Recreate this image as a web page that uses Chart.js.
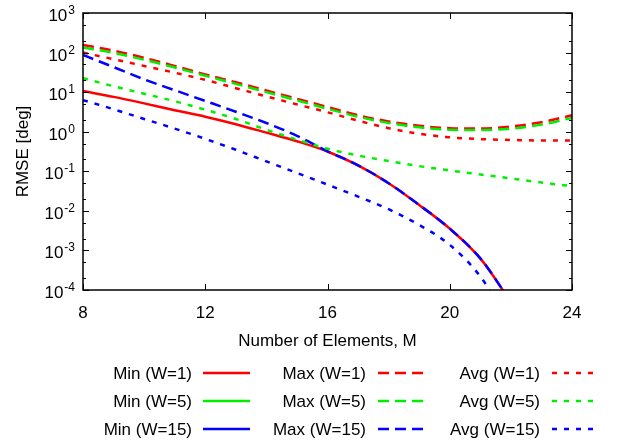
<!DOCTYPE html>
<html>
<head>
<meta charset="utf-8">
<script src="https://cdn.jsdelivr.net/npm/chart.js@4.4.1/dist/chart.umd.min.js"></script>
<style>
  html, body { margin: 0; padding: 0; background: #fff; }
  #wrap { width: 639px; height: 444px; }
</style>
</head>
<body>
<div id="wrap"><canvas id="rmseChart" width="639" height="444"></canvas></div>
<script>
// number of array elements M
var elements = [8, 9, 10, 11, 12, 13, 14, 15, 16, 17, 18, 19, 20, 21, 22, 23, 24];

// RMSE in degrees for each window length W
var minW1  = [10.7, 7.6, 5.2, 3.5, 2.4, 1.55, 0.95, 0.575, 0.316, 0.141, 0.050, 0.0141, 0.00355, 0.00063, 0.00005, null, null];
var minW5  = [];   // below 1e-4 over the whole range
var minW15 = [];   // below 1e-4 over the whole range
var maxW1  = [155, 112, 74, 46, 28, 17.8, 11.0, 6.8, 4.2, 2.6, 1.82, 1.41, 1.23, 1.20, 1.35, 1.74, 2.6];
var maxW5  = [135, 98, 66, 42, 26, 16.2, 10.0, 6.2, 3.8, 2.4, 1.66, 1.29, 1.12, 1.10, 1.20, 1.51, 2.24];
var maxW15 = [87, 43, 21, 11.2, 6.0, 3.2, 1.66, 0.79, 0.32, 0.141, 0.050, 0.0141, 0.00355, 0.00063, 0.00005, null, null];
var avgW1  = [100, 68, 46, 31, 20.4, 12.6, 7.8, 4.9, 3.1, 1.9, 1.23, 0.89, 0.72, 0.65, 0.62, 0.60, 0.60];
var avgW5  = [22.4, 14.1, 9.1, 5.9, 3.6, 2.1, 1.12, 0.63, 0.37, 0.25, 0.182, 0.135, 0.105, 0.083, 0.066, 0.052, 0.042];
var avgW15 = [6.3, 3.7, 2.1, 1.2, 0.66, 0.35, 0.178, 0.091, 0.046, 0.023, 0.011, 0.0044, 0.00138, 0.00022, 0.0000126, null, null];

var seriesLabels = ['Min (W=1)', 'Min (W=5)', 'Min (W=15)',
                    'Max (W=1)', 'Max (W=5)', 'Max (W=15)',
                    'Avg (W=1)', 'Avg (W=5)', 'Avg (W=15)'];
var xTicks = [8, 12, 16, 20, 24];
var yTicks = [1e-4, 1e-3, 1e-2, 1e-1, 1, 10, 100, 1000];

var FONT = '"Liberation Sans", Arial, sans-serif';
var colors = ['#ff0000', '#00ee00', '#0000ff'];
var dashes = [[], [11, 6], [5, 7]];

function points(arr) {
    var out = [];
    for (var i = 0; i < elements.length; i++) {
        if (arr[i] != null) out.push({ x: elements[i], y: arr[i] });
    }
    return out;
}

var allSeries = [minW1, minW5, minW15, maxW1, maxW5, maxW15, avgW1, avgW5, avgW15];
var datasets = allSeries.map(function (arr, i) {
    return {
        label: seriesLabels[i],
        data: points(arr),
        borderColor: colors[i % 3],
        borderDash: dashes[Math.floor(i / 3)],
        borderWidth: 2.5,
        borderCapStyle: 'butt',
        pointRadius: 0,
        fill: false,
        cubicInterpolationMode: 'monotone',
        order: 20 - i   // later series are drawn on top
    };
});

function seg(ctx, x1, y1, x2, y2) {
    ctx.beginPath();
    ctx.moveTo(x1, y1);
    ctx.lineTo(x2, y2);
    ctx.stroke();
}

// border, inward ticks and axis text
var axesPlugin = {
    id: 'axesPlugin',
    afterDatasetsDraw: function (chart) {
        var ctx = chart.ctx, a = chart.chartArea;
        var xs = chart.scales.x, ys = chart.scales.y;
        ctx.save();
        ctx.strokeStyle = '#000';
        ctx.lineWidth = 1;
        xTicks.forEach(function (v) {
            var px = Math.round(xs.getPixelForValue(v)) + 0.5;
            seg(ctx, px, a.bottom, px, a.bottom - 6);
            seg(ctx, px, a.top, px, a.top + 6);
        });
        yTicks.forEach(function (v, k) {
            var py = Math.round(ys.getPixelForValue(v)) + 0.5;
            seg(ctx, a.left, py, a.left + 6, py);
            seg(ctx, a.right, py, a.right - 6, py);
            if (k < yTicks.length - 1) {
                [2, 5].forEach(function (m) {
                    var pm = Math.round(ys.getPixelForValue(v * m)) + 0.5;
                    seg(ctx, a.left, pm, a.left + 3, pm);
                    seg(ctx, a.right, pm, a.right - 3, pm);
                });
            }
        });
        ctx.lineWidth = 1.5;
        ctx.strokeRect(a.left, a.top, a.right - a.left, a.bottom - a.top);

        ctx.fillStyle = '#000';
        ctx.font = '17px ' + FONT;
        ctx.textAlign = 'center';
        ctx.textBaseline = 'alphabetic';
        xTicks.forEach(function (v) {
            ctx.fillText(String(v), xs.getPixelForValue(v), a.bottom + 28);
        });
        ctx.fillText('Number of Elements, M', (a.left + a.right) / 2, a.bottom + 56);

        // y labels as 10 with a raised exponent
        yTicks.forEach(function (v) {
            var py = ys.getPixelForValue(v);
            var e = String(Math.round(Math.log10(v)));
            ctx.font = '12px ' + FONT;
            var we = ctx.measureText(e).width;
            ctx.textAlign = 'left';
            ctx.fillText(e, a.left - 8 - we, py + 1);
            ctx.font = '17px ' + FONT;
            ctx.textAlign = 'right';
            ctx.fillText('10', a.left - 9 - we, py + 8);
        });

        ctx.save();
        ctx.translate(28, (a.top + a.bottom) / 2);
        ctx.rotate(-Math.PI / 2);
        ctx.textAlign = 'center';
        ctx.font = '17px ' + FONT;
        ctx.fillText('RMSE [deg]', 0, 0);
        ctx.restore();
        ctx.restore();
    }
};

// three-column key below the plot, text to the left of each line sample
var keyPlugin = {
    id: 'keyPlugin',
    afterDraw: function (chart) {
        var ctx = chart.ctx;
        var textRight = [192, 366, 540];
        var lineFrom = [203, 378, 552];
        var lineLen = 47;
        var rowY = [373, 401, 429];
        ctx.save();
        ctx.font = '17px ' + FONT;
        ctx.textAlign = 'right';
        ctx.textBaseline = 'middle';
        chart.data.datasets.forEach(function (ds, i) {
            var col = Math.floor(i / 3), row = i % 3;
            var y = rowY[row];
            ctx.fillStyle = '#000';
            ctx.fillText(ds.label, textRight[col], y + 1);
            ctx.strokeStyle = ds.borderColor;
            ctx.lineWidth = 2.5;
            ctx.lineCap = 'butt';
            ctx.setLineDash(ds.borderDash);
            seg(ctx, lineFrom[col], y, lineFrom[col] + lineLen, y);
            ctx.setLineDash([]);
        });
        ctx.restore();
    }
};

var ctx = document.getElementById('rmseChart').getContext('2d');
var rmseChart = new Chart(ctx, {
    type: 'line',
    data: { datasets: datasets },
    options: {
        responsive: false,
        animation: false,
        devicePixelRatio: 1,
        layout: { padding: { left: 83, right: 67, top: 13, bottom: 154 } },
        scales: {
            x: { type: 'linear', min: 8, max: 24, display: false },
            y: { type: 'logarithmic', min: 1e-4, max: 1e3, display: false }
        },
        plugins: {
            legend: { display: false },
            tooltip: { enabled: false }
        }
    },
    plugins: [axesPlugin, keyPlugin]
});
</script>
</body>
</html>
